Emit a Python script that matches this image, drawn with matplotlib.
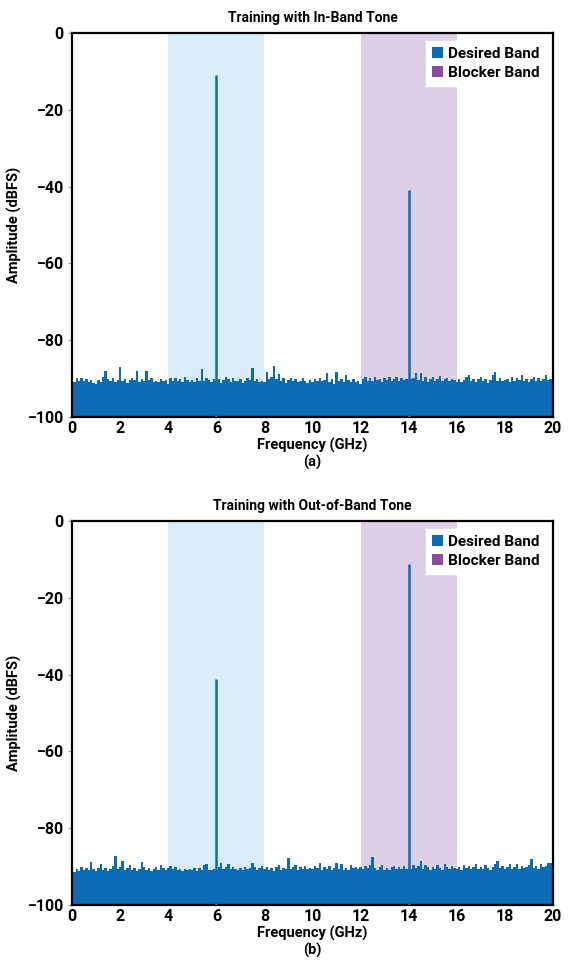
import numpy as np
import matplotlib
matplotlib.use("Agg")
import matplotlib.pyplot as plt
from matplotlib.patches import Patch

plt.rcParams['font.family'] = ['Roboto', 'DejaVu Sans']
plt.rcParams['font.weight'] = 'bold'

# frequency grid of the noise floor (GHz), 0.1 GHz steps
freq = np.round(np.arange(0, 20.01, 0.1), 1)

# noise floor, dBFS
noise_a = [
    -92.5, -90.8, -89.8, -90.5, -89.9, -90.6, -90.1, -91.0, -90.4, -91.2,
    -91.5, -90.3, -90.9, -89.6, -88.0, -90.2, -90.7, -89.9, -90.8, -90.3,
    -87.0, -90.6, -90.0, -91.1, -90.4, -89.8, -90.3, -88.0, -90.9, -90.2,
    -90.6, -88.1, -90.4, -89.9, -90.8, -90.5, -91.0, -90.2, -90.7, -90.4,
    -91.3, -89.8, -90.5, -89.9, -90.6, -90.1, -90.9, -89.7, -90.4, -91.0,
    -90.3, -90.8, -89.9, -90.5, -87.6, -90.6, -89.8, -90.3, -91.0, -90.2,
    -90.5, -90.0, -91.1, -90.4, -89.6, -90.2, -90.8, -89.9, -90.5, -90.7,
    -90.1, -91.2, -90.6, -89.8, -90.4, -87.3, -90.7, -90.0, -91.0, -90.5,
    -90.8, -88.3, -90.2, -89.5, -86.6, -90.1, -88.7, -90.5, -89.8, -91.1,
    -90.4, -89.9, -90.7, -90.2, -91.0, -90.5, -89.8, -90.6, -91.2, -90.3,
    -90.9, -90.1, -90.6, -89.9, -90.7, -90.3, -88.5, -90.8, -90.2, -91.4,
    -88.3, -90.5, -90.1, -90.9, -89.0, -90.4, -90.8, -90.2, -91.0, -90.6,
    -91.5, -90.0, -89.6, -90.5, -89.9, -90.7, -89.7, -90.3, -90.0, -90.8,
    -89.8, -90.4, -89.6, -90.6, -90.1, -89.5, -90.5, -89.9, -90.3, -90.0,
    -90.4, -90.2, -89.8, -88.5, -90.3, -88.5, -90.6, -89.7, -90.9, -90.2,
    -89.6, -90.5, -90.0, -89.4, -90.7, -90.1, -89.8, -90.6, -90.2, -90.4,
    -90.8, -90.1, -91.0, -90.3, -89.5, -89.0, -90.6, -90.0, -90.9, -90.2,
    -89.7, -90.6, -90.1, -91.1, -90.4, -89.0, -88.3, -90.5, -89.9, -90.7,
    -90.3, -90.0, -90.8, -89.6, -90.5, -89.9, -90.4, -89.0, -90.6, -90.1,
    -90.9, -90.2, -89.5, -90.5, -89.9, -90.7, -90.1, -89.0, -90.4, -90.0,
    -90.3,
]

# noise floor, dBFS
noise_b = [
    -90.3, -91.4, -90.6, -91.2, -90.2, -90.8, -90.4, -91.0, -88.7, -90.5,
    -91.1, -90.3, -89.3, -90.9, -90.4, -91.2, -90.6, -89.8, -87.3, -90.7,
    -90.2, -88.5, -91.0, -90.4, -89.6, -90.8, -90.3, -91.1, -90.5, -88.7,
    -90.1, -90.9, -90.4, -91.2, -90.6, -90.0, -90.8, -89.5, -90.4, -91.0,
    -90.3, -89.8, -90.6, -90.1, -90.9, -90.5, -91.1, -90.7, -91.0, -90.6,
    -90.9, -90.4, -91.1, -90.3, -90.8, -89.6, -89.3, -90.8, -91.0, -90.5,
    -91.0, -90.2, -89.0, -90.6, -90.1, -89.4, -90.7, -90.0, -90.5, -90.9,
    -90.3, -90.8, -90.1, -90.6, -90.4, -89.0, -90.2, -90.9, -90.3, -89.8,
    -90.6, -90.0, -90.9, -90.4, -91.1, -90.2, -89.7, -90.8, -90.3, -90.6,
    -87.8, -90.7, -90.2, -89.6, -90.9, -90.1, -90.5, -89.8, -90.7, -90.3,
    -90.6, -89.9, -90.4, -89.0, -90.8, -90.2, -90.6, -89.9, -91.0, -90.4,
    -89.0, -90.6, -89.4, -90.8, -90.3, -90.9, -89.5, -90.4, -90.0, -90.7,
    -90.2, -90.6, -89.9, -90.4, -89.6, -87.5, -90.3, -90.8, -90.1, -89.7,
    -90.9, -90.4, -90.8, -90.2, -89.8, -90.6, -90.1, -90.5, -89.9, -90.6,
    -90.4, -90.7, -89.7, -90.3, -89.9, -88.5, -90.6, -89.5, -90.2, -90.8,
    -90.0, -90.5, -89.6, -90.3, -90.9, -89.4, -90.2, -90.6, -89.8, -90.4,
    -90.6, -90.1, -90.8, -89.5, -90.4, -89.9, -90.7, -90.2, -89.3, -90.5,
    -90.0, -90.6, -89.6, -90.3, -90.8, -90.1, -89.4, -88.5, -90.4, -89.9,
    -90.6, -90.2, -89.4, -90.7, -90.0, -89.2, -90.5, -89.9, -90.4, -90.1,
    -89.6, -88.0, -90.3, -89.8, -90.6, -89.3, -90.2, -89.9, -89.1, -89.0,
    -90.1,
]

# tones (GHz, dBFS)
tone_freq = [6.0, 14.0]
tone_level_a = [-11.0, -41.0]
tone_level_b = [-41.2, -11.3]

desired_band = (4, 8)
blocker_band = (12, 16)

titles = ["Training with In-Band Tone", "Training with Out-of-Band Tone"]
sublabels = ["(a)", "(b)"]

spec_color = '#0b6cb5'
desired_shade = '#d9eefa'
blocker_shade = '#dcd0e6'
desired_legend = '#0b6cb5'
blocker_legend = '#8a4c9f'

fig = plt.figure(figsize=(5.72, 9.66), dpi=100)
ax_pos = [[0.1259, 0.5683, 0.8409, 0.3975], [0.1259, 0.0631, 0.8409, 0.3975]]

for i, (noise, levels) in enumerate([(noise_a, tone_level_a), (noise_b, tone_level_b)]):
    ax = fig.add_axes(ax_pos[i])
    ax.axvspan(*desired_band, color=desired_shade, lw=0, zorder=0)
    ax.axvspan(*blocker_band, color=blocker_shade, lw=0, zorder=0)
    ax.fill_between(freq, noise, -100, step='mid', color=spec_color, lw=0, zorder=2)
    ax.vlines(tone_freq, -100, levels, color=spec_color, lw=1.8, zorder=3)

    ax.set_xlim(0, 20)
    ax.set_ylim(-100, 0)
    ax.set_xticks(range(0, 21, 2))
    ax.set_yticks(range(-100, 1, 20))
    ax.tick_params(axis='x', direction='in', length=2, labelsize=11.5, pad=3, color='#999999')
    ax.tick_params(axis='y', direction='out', length=3, labelsize=11.5, pad=3, color='#999999')
    for lab in ax.get_xticklabels() + ax.get_yticklabels():
        lab.set_fontweight('bold')
    for sp in ax.spines.values():
        sp.set_linewidth(1.6)
        sp.set_color('black')

    ax.set_title(titles[i], fontsize=10, fontweight='bold', pad=8)
    ax.set_ylabel("Amplitude (dBFS)", fontsize=10.5, fontweight='bold', labelpad=4)
    ax.set_xlabel("Frequency (GHz)\n" + sublabels[i], fontsize=10.5, fontweight='bold',
                  labelpad=1, linespacing=1.2)

    handles = [Patch(facecolor=desired_legend, edgecolor='none', label="Desired Band"),
               Patch(facecolor=blocker_legend, edgecolor='none', label="Blocker Band")]
    leg = ax.legend(handles=handles, loc='upper right', frameon=True, fancybox=False,
                    framealpha=1, edgecolor='white', handlelength=0.7, handleheight=0.8,
                    handletextpad=0.3, labelspacing=0.3, borderaxespad=0.5,
                    borderpad=0.4, prop={'weight': 'bold', 'size': 11})
    leg.set_zorder(5)

fig.savefig("out.png", dpi=100)
